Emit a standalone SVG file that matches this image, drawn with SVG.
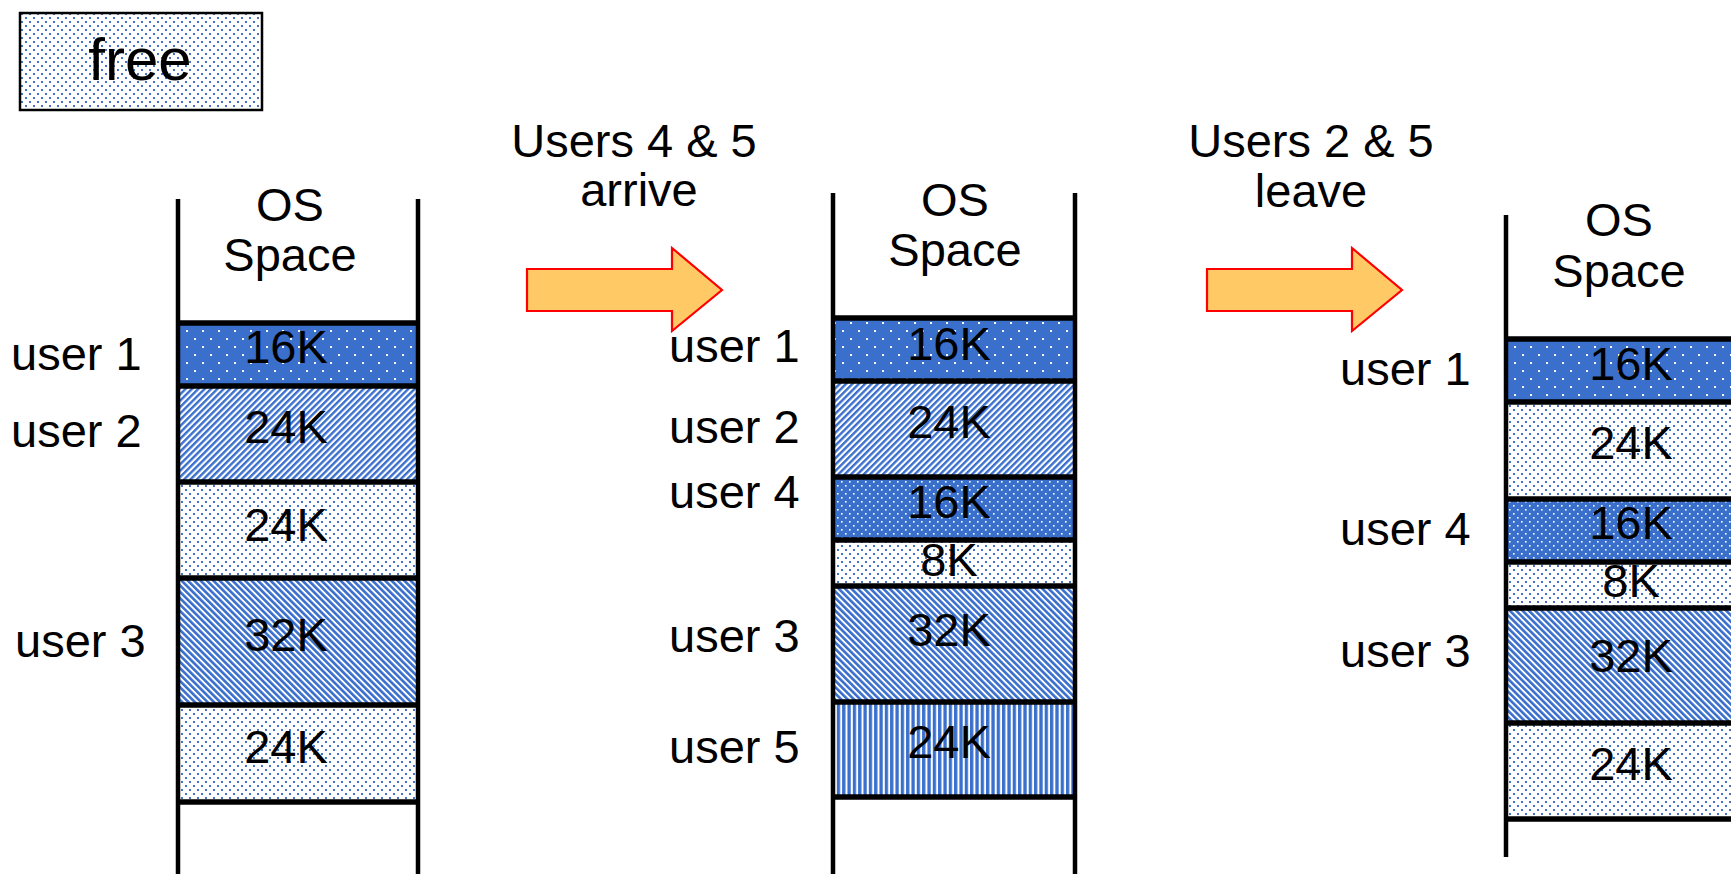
<svg xmlns="http://www.w3.org/2000/svg" width="1731" height="874" viewBox="0 0 1731 874">
  <defs>
    <style>
      text { font-family: "Liberation Sans", Arial, sans-serif; fill: #000; }
      .lbl { font-size: 47px; }
      .size { font-size: 47px; text-anchor: middle; }
      .head { font-size: 47px; text-anchor: middle; }
      .wall { stroke: #000; stroke-width: 4.5; fill: none; }
      .sep { stroke: #000; stroke-width: 5.5; }
      .arrow { fill: #FFC966; stroke: #FF0000; stroke-width: 2.2; stroke-linejoin: miter; }
      .p-free { fill: url(#dotsFree); }
      .p-u1 { fill: url(#dotsSolid); }
      .p-u4 { fill: url(#dotsSolidDense); }
      .p-u2 { fill: url(#diagUp); }
      .p-u3 { fill: url(#diagDown); }
      .p-u5 { fill: url(#vStripes); }
    </style>
    <!-- free memory: white ground, small blue dots -->
    <pattern id="dotsFree" width="8" height="8" patternUnits="userSpaceOnUse">
      <rect width="8" height="8" fill="#fff"/>
      <rect x="1" y="1" width="2" height="2" fill="#4472C4"/>
      <rect x="5" y="5" width="2" height="2" fill="#4472C4"/>
    </pattern>
    <!-- solid blue with sparse white dots -->
    <pattern id="dotsSolid" width="16" height="16" patternUnits="userSpaceOnUse">
      <rect width="16" height="16" fill="#3A6FCC"/>
      <rect x="2" y="2" width="2" height="2" fill="#fff"/>
      <rect x="10" y="10" width="2" height="2" fill="#fff"/>
    </pattern>
    <!-- solid blue with denser white dots -->
    <pattern id="dotsSolidDense" width="8" height="8" patternUnits="userSpaceOnUse">
      <rect width="8" height="8" fill="#3A6FCC"/>
      <rect x="1" y="1" width="1.6" height="1.6" fill="#fff"/>
      <rect x="5" y="5" width="1.6" height="1.6" fill="#fff"/>
    </pattern>
    <!-- forward diagonal stripes -->
    <pattern id="diagUp" width="4.5" height="8" patternUnits="userSpaceOnUse" patternTransform="rotate(45)">
      <rect width="4.5" height="8" fill="#fff"/>
      <rect width="2.4" height="8" fill="#3A6FCC"/>
    </pattern>
    <!-- backward diagonal stripes -->
    <pattern id="diagDown" width="4.5" height="8" patternUnits="userSpaceOnUse" patternTransform="rotate(-45)">
      <rect width="4.5" height="8" fill="#fff"/>
      <rect width="2.6" height="8" fill="#3A6FCC"/>
    </pattern>
    <!-- vertical stripes -->
    <pattern id="vStripes" width="5.33" height="8" patternUnits="userSpaceOnUse">
      <rect width="5.33" height="8" fill="#fff"/>
      <rect width="3.3" height="8" fill="#3A6FCC"/>
    </pattern>
  </defs>

  <rect width="1731" height="874" fill="#fff"/>

  <!-- legend -->
  <g id="legend-free">
    <rect x="20" y="13" width="242" height="97" class="p-free" stroke="#000" stroke-width="2.5"/>
    <text x="140" y="80" style="font-size:60px;text-anchor:middle">free</text>
  </g>

  <!-- memory map 1 -->
  <g id="map1">
    <g id="map1-os"><text class="head" x="290" y="221">OS</text><text class="head" x="290" y="271">Space</text></g>
    <g id="map1-u1"><rect x="178" y="323" width="240" height="63" class="p-u1"/><text class="size" x="286" y="363">16K</text></g>
    <g id="map1-u2"><rect x="178" y="386" width="240" height="96" class="p-u2"/><text class="size" x="286" y="443">24K</text></g>
    <g id="map1-f1"><rect x="178" y="482" width="240" height="96" class="p-free"/><text class="size" x="286" y="541">24K</text></g>
    <g id="map1-u3"><rect x="178" y="578" width="240" height="127" class="p-u3"/><text class="size" x="286" y="651">32K</text></g>
    <g id="map1-f2"><rect x="178" y="705" width="240" height="97" class="p-free"/><text class="size" x="286" y="763">24K</text></g>
    <path class="sep" d="M178 323H418M178 386H418M178 482H418M178 578H418M178 705H418M178 802H418"/>
    <path class="wall" d="M178 199V880M418 199V880"/>
    <text class="lbl" x="11" y="370">user 1</text>
    <text class="lbl" x="11" y="447">user 2</text>
    <text class="lbl" x="15" y="657">user 3</text>
  </g>

  <!-- memory map 2 -->
  <g id="map2">
    <g id="map2-os"><text class="head" x="955" y="216">OS</text><text class="head" x="955" y="266">Space</text></g>
    <g id="map2-u1"><rect x="833" y="318" width="242" height="63" class="p-u1"/><text class="size" x="949" y="360">16K</text></g>
    <g id="map2-u2"><rect x="833" y="381" width="242" height="96" class="p-u2"/><text class="size" x="949" y="438">24K</text></g>
    <g id="map2-u4"><rect x="833" y="477" width="242" height="63" class="p-u4"/><text class="size" x="949" y="518">16K</text></g>
    <g id="map2-f1"><rect x="833" y="540" width="242" height="46" class="p-free"/><text class="size" x="949" y="576">8K</text></g>
    <g id="map2-u3"><rect x="833" y="586" width="242" height="116" class="p-u3"/><text class="size" x="949" y="646">32K</text></g>
    <g id="map2-u5"><rect x="833" y="702" width="242" height="95" class="p-u5"/><text class="size" x="949" y="758">24K</text></g>
    <path class="sep" d="M833 318H1075M833 381H1075M833 477H1075M833 540H1075M833 586H1075M833 702H1075M833 797H1075"/>
    <path class="wall" d="M833 193V880M1075 193V880"/>
    <text class="lbl" x="669" y="362">user 1</text>
    <text class="lbl" x="669" y="443">user 2</text>
    <text class="lbl" x="669" y="508">user 4</text>
    <text class="lbl" x="669" y="652">user 3</text>
    <text class="lbl" x="669" y="763">user 5</text>
  </g>

  <!-- memory map 3 -->
  <g id="map3">
    <g id="map3-os"><text class="head" x="1619" y="236">OS</text><text class="head" x="1619" y="287">Space</text></g>
    <g id="map3-u1"><rect x="1506" y="339" width="250" height="63" class="p-u1"/><text class="size" x="1631" y="380">16K</text></g>
    <g id="map3-f1"><rect x="1506" y="402" width="250" height="97" class="p-free"/><text class="size" x="1631" y="459">24K</text></g>
    <g id="map3-u4"><rect x="1506" y="499" width="250" height="63" class="p-u4"/><text class="size" x="1631" y="539">16K</text></g>
    <g id="map3-f2"><rect x="1506" y="562" width="250" height="46" class="p-free"/><text class="size" x="1631" y="597">8K</text></g>
    <g id="map3-u3"><rect x="1506" y="608" width="250" height="115" class="p-u3"/><text class="size" x="1631" y="672">32K</text></g>
    <g id="map3-f3"><rect x="1506" y="723" width="250" height="96" class="p-free"/><text class="size" x="1631" y="780">24K</text></g>
    <path class="sep" d="M1506 339H1760M1506 402H1760M1506 499H1760M1506 562H1760M1506 608H1760M1506 723H1760M1506 819H1760"/>
    <path class="wall" d="M1506 215V857"/>
    <text class="lbl" x="1340" y="385">user 1</text>
    <text class="lbl" x="1340" y="545">user 4</text>
    <text class="lbl" x="1340" y="667">user 3</text>
  </g>

  <!-- transitions -->
  <g id="connectors">
    <g id="step1">
      <path class="arrow" d="M527 269H672V248L722 290L672 331V311H527Z"/>
      <text class="head" x="634" y="157">Users 4 &amp; 5</text>
      <text class="head" x="639" y="206">arrive</text>
    </g>
    <g id="step2">
      <path class="arrow" d="M1207 269H1352V248L1402 290L1352 331V311H1207Z"/>
      <text class="head" x="1311" y="157">Users 2 &amp; 5</text>
      <text class="head" x="1311" y="207">leave</text>
    </g>
  </g>
</svg>
